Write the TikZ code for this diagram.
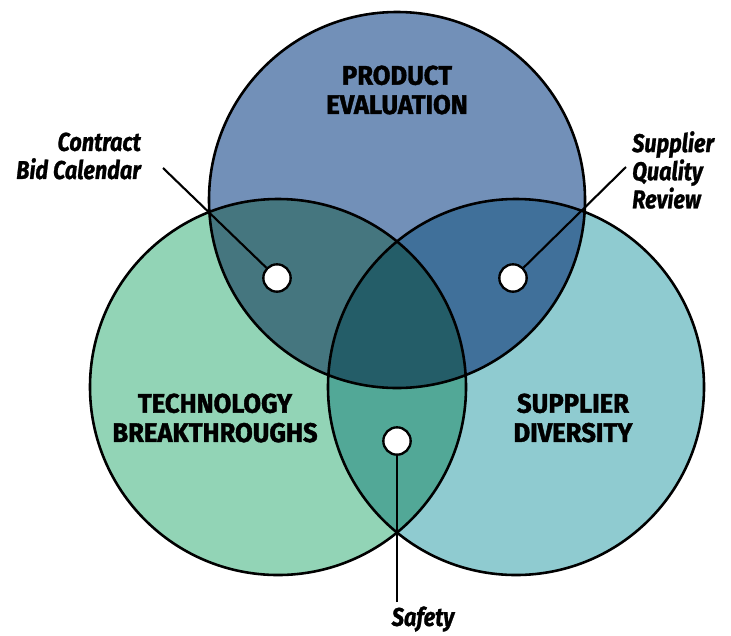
\documentclass[tikz,border=0pt]{standalone}
\usepackage{fontspec}
\newfontfamily\headfont[FakeStretch=0.95,FakeBold=1.5]{Fira Sans}
\newfontfamily\tagfont[FakeStretch=0.84,FakeBold=1]{Fira Sans}

\definecolor{evalblue}{HTML}{7290B8}
\definecolor{techgreen}{HTML}{92D4B6}
\definecolor{divteal}{HTML}{8FCBD0}
\definecolor{evaltech}{HTML}{45767F}
\definecolor{evaldiv}{HTML}{40709A}
\definecolor{techdiv}{HTML}{52A897}
\definecolor{allthree}{HTML}{245D68}

\begin{document}
\begin{tikzpicture}[x=0.03cm,y=-0.03cm,
    ring/.style={draw=black,line width=2.2pt},
    heading/.style={font=\headfont\bfseries\fontsize{23}{25}\selectfont,align=center,inner sep=0pt},
    tag/.style={font=\tagfont\bfseries\itshape\fontsize{22}{24}\selectfont,inner sep=0pt},
    dot/.style={circle,draw=black,fill=white,line width=2pt,minimum size=0.82cm,inner sep=0pt},
    leader/.style={line width=1.8pt}
]
\useasboundingbox (0,0) rectangle (731,635);

% === Circle centres ===
\coordinate (top) at (397,200);
\coordinate (lft) at (278,387);
\coordinate (rgt) at (516,387);
\def\rad{5.64cm}

% === Single areas ===
\fill[evalblue] (top) circle[radius=\rad];
\fill[techgreen] (lft) circle[radius=\rad];
\fill[divteal] (rgt) circle[radius=\rad];

% === Pairwise overlaps ===
\begin{scope}
    \clip (top) circle[radius=\rad];
    \fill[evaltech] (lft) circle[radius=\rad];
    \fill[evaldiv] (rgt) circle[radius=\rad];
\end{scope}
\begin{scope}
    \clip (lft) circle[radius=\rad];
    \fill[techdiv] (rgt) circle[radius=\rad];
\end{scope}

% === Centre overlap ===
\begin{scope}
    \clip (top) circle[radius=\rad];
    \clip (lft) circle[radius=\rad];
    \fill[allthree] (rgt) circle[radius=\rad];
\end{scope}

% === Outlines ===
\draw[ring] (top) circle[radius=\rad];
\draw[ring] (lft) circle[radius=\rad];
\draw[ring] (rgt) circle[radius=\rad];

% === Set names ===
\node[heading] (eval) at (397,90) {PRODUCT\\EVALUATION};
\node[heading] (tech) at (215,418) {TECHNOLOGY\\BREAKTHROUGHS};
\node[heading] (div) at (573,418) {SUPPLIER\\DIVERSITY};

% === Callouts ===
\node[dot] (biddot) at (277,278) {};
\node[dot] (qualdot) at (513,278) {};
\node[dot] (safedot) at (397,441) {};

\node[tag,anchor=east,align=right] (bid) at (141,156) {Contract\\Bid Calendar};
\node[tag,anchor=west,align=left] (qual) at (632,170) {Supplier\\Quality\\Review};
\node[tag] (safe) at (423,619) {Safety};

\coordinate (bidend) at (163,168);
\coordinate (qualend) at (626,167);
\coordinate (safeend) at (397,602);

\draw[leader] (bidend) -- (biddot);
\draw[leader] (qualend) -- (qualdot);
\draw[leader] (safeend) -- (safedot);

\end{tikzpicture}
\end{document}
